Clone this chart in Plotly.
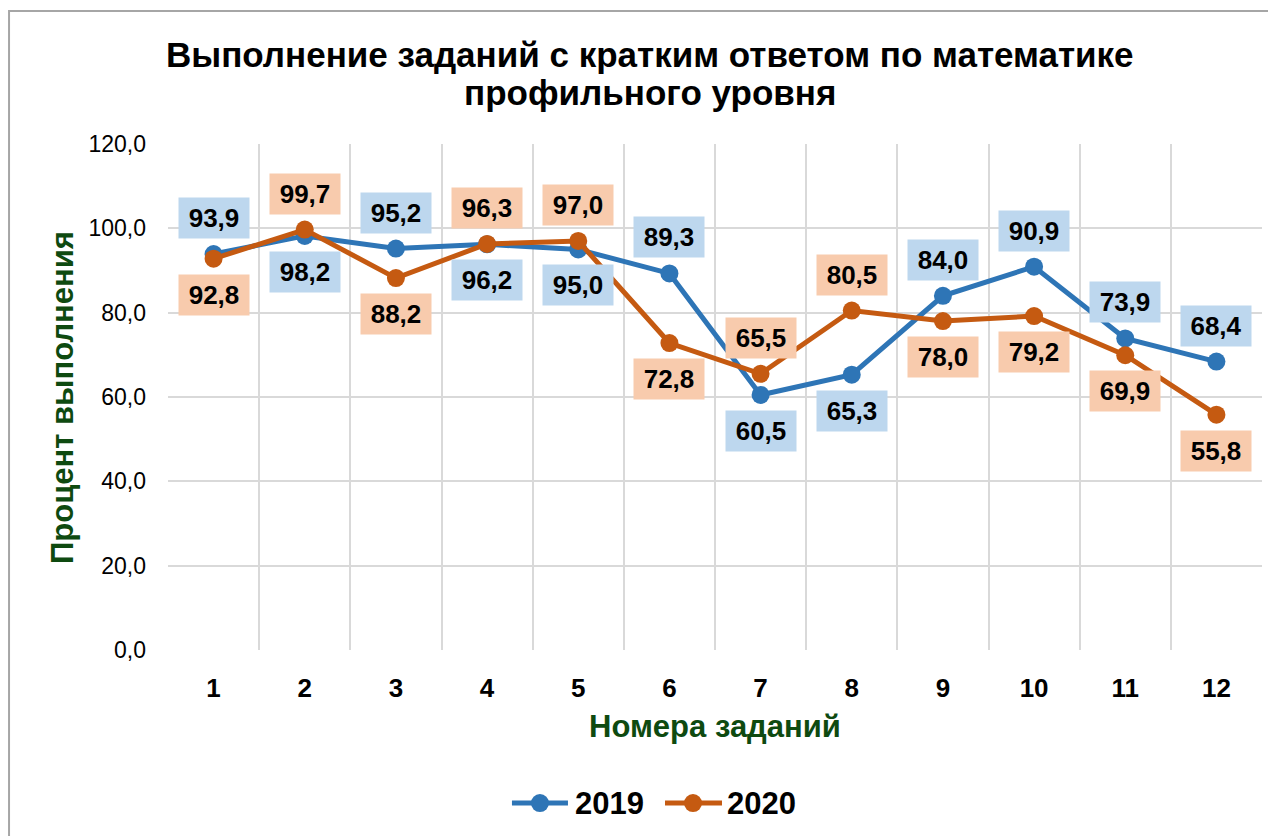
import plotly.graph_objects as go

tasks = ["1", "2", "3", "4", "5", "6", "7", "8", "9", "10", "11", "12"]
values_2019 = [93.9, 98.2, 95.2, 96.2, 95.0, 89.3, 60.5, 65.3, 84.0, 90.9, 73.9, 68.4]
values_2020 = [92.8, 99.7, 88.2, 96.3, 97.0, 72.8, 65.5, 80.5, 78.0, 79.2, 69.9, 55.8]
series_names = ["2019", "2020"]
title_lines = ["Выполнение заданий с кратким ответом по математике", "профильного уровня"]

# label placement: 1 = above point, -1 = below point
place_2019 = [1, -1, 1, -1, -1, 1, -1, -1, 1, 1, 1, 1]
place_2020 = [-1, 1, -1, 1, 1, -1, 1, 1, -1, -1, -1, -1]

BLUE = "#2E75B6"
ORANGE = "#C55A11"
BLUE_BG = "#BDD7EE"
ORANGE_BG = "#F8CBAD"
GREEN = "#0E4A10"
FONT = "Liberation Sans, Arial, sans-serif"

xs = list(range(1, len(tasks) + 1))

fig = go.Figure()
fig.add_trace(go.Scatter(x=xs, y=values_2019, name=series_names[0], mode="lines+markers",
                         line=dict(color=BLUE, width=5),
                         marker=dict(color=BLUE, size=18)))
fig.add_trace(go.Scatter(x=xs, y=values_2020, name=series_names[1], mode="lines+markers",
                         line=dict(color=ORANGE, width=5),
                         marker=dict(color=ORANGE, size=18)))

annotations = []
for vals, places, bg in ((values_2019, place_2019, BLUE_BG), (values_2020, place_2020, ORANGE_BG)):
    for x, v, p in zip(xs, vals, places):
        annotations.append(dict(
            x=x, y=v, xref="x", yref="y", text=f"{v:.1f}".replace(".", ","),
            showarrow=False, yshift=36 * p, bgcolor=bg, width=68, height=38,
            font=dict(family=FONT, size=26, color="black", weight="bold"),
        ))

# title (two lines)
for line, ty in zip(title_lines, (1.1759, 1.1008)):
    annotations.append(dict(
        xref="paper", yref="paper", x=0.4406, y=ty, xanchor="center", yanchor="middle",
        text=f"<b>{line}</b>", showarrow=False, font=dict(family=FONT, size=35, color="black")))
# y axis title
annotations.append(dict(
    xref="paper", yref="paper", x=-0.0969, y=0.5, xanchor="center", yanchor="middle",
    text="<b>Процент выполнения</b>", textangle=-90, showarrow=False,
    font=dict(family=FONT, size=31, color=GREEN)))
# x axis title
annotations.append(dict(
    xref="paper", yref="paper", x=0.5, y=-0.152, xanchor="center", yanchor="middle",
    text="<b>Номера заданий</b>", showarrow=False,
    font=dict(family=FONT, size=31, color=GREEN)))

# custom legend (line + marker + label)
LEG_Y = -0.3024
shapes = [dict(type="rect", xref="paper", yref="paper",
               x0=-0.1453, y0=-0.45, x1=1.05, y1=1.2628,
               line=dict(color="#A6A6A6", width=2), fillcolor="rgba(0,0,0,0)", layer="below")]
for name, color, lx0, lx1, mx, tx in ((series_names[0], BLUE, 0.3144, 0.3656, 0.3400, 0.3702),
                                      (series_names[1], ORANGE, 0.4543, 0.5064, 0.4799, 0.5091)):
    shapes.append(dict(type="line", xref="paper", yref="paper", x0=lx0, x1=lx1, y0=LEG_Y, y1=LEG_Y,
                       line=dict(color=color, width=5)))
    shapes.append(dict(type="circle", xref="paper", yref="paper",
                       xsizemode="pixel", ysizemode="pixel", xanchor=mx, yanchor=LEG_Y,
                       x0=-9, x1=9, y0=-9, y1=9, fillcolor=color, line=dict(color=color, width=0)))
    annotations.append(dict(xref="paper", yref="paper", x=tx, y=LEG_Y, xanchor="left", yanchor="middle",
                            text=f"<b>{name}</b>", showarrow=False,
                            font=dict(family=FONT, size=31, color="black")))

fig.update_layout(
    width=1276, height=836,
    margin=dict(l=160, r=22, t=136, b=194),
    paper_bgcolor="white", plot_bgcolor="white",
    separators=", ",
    font=dict(family=FONT, color="black"),
    annotations=annotations,
    shapes=shapes,
    showlegend=False,
)

fig.update_xaxes(
    range=[0.5, len(tasks) + 0.5], tickmode="array", tickvals=xs, ticktext=tasks,
    showgrid=False, zeroline=False, showline=False, ticks="",
    tickfont=dict(family=FONT, size=26, color="black", weight="bold"),
    ticklabelstandoff=20,
    minor=dict(tickmode="array", tickvals=[i + 0.5 for i in range(0, len(tasks) + 1)],
               showgrid=True, gridcolor="#D9D9D9", gridwidth=1.5, ticks=""),
)
fig.update_yaxes(
    range=[0, 120], tickmode="array", tickvals=[0, 20, 40, 60, 80, 100, 120],
    tickformat=".1f", showgrid=True, gridcolor="#D9D9D9", gridwidth=1.5,
    zeroline=False, showline=False, ticks="",
    tickfont=dict(family=FONT, size=23, color="black"),
    ticklabelstandoff=21,
)

fig.write_html("out.html")
